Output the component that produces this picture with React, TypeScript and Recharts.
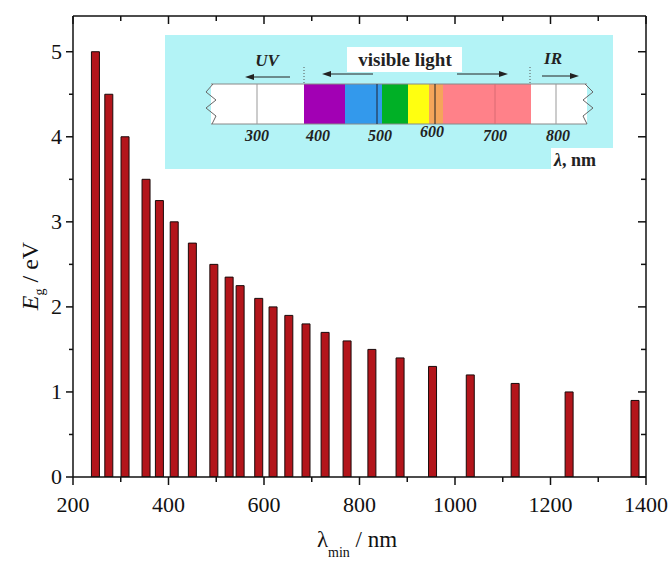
import { ComposedChart, Bar, XAxis, YAxis } from "recharts";

// band gap (eV) vs. the cut-off wavelength (nm) it absorbs from
const lambdaMin = [248, 276, 310, 354, 382, 413, 451, 496, 528, 551, 590, 620, 653, 689, 729, 775, 827, 886, 954, 1033, 1127, 1240, 1378];
const bandGap = [5, 4.5, 4, 3.5, 3.25, 3, 2.75, 2.5, 2.35, 2.25, 2.1, 2, 1.9, 1.8, 1.7, 1.6, 1.5, 1.4, 1.3, 1.2, 1.1, 1.0, 0.9];

const xTicks = [200, 300, 400, 500, 600, 700, 800, 900, 1000, 1100, 1200, 1300, 1400];
const yTicks = [0, 0.5, 1, 1.5, 2, 2.5, 3, 3.5, 4, 4.5, 5];

// inset spectrum strip
const spectrumLabels = ["300", "400", "500", "600", "700", "800"];

const data = lambdaMin.map((l, i) => ({ lambda: l, eg: bandGap[i] }));

const SERIF = '"Liberation Serif", "Times New Roman", serif';
const INK = "#111";

const BottomTick = (props: any) => {
  const { x, y, payload } = props;
  const major = payload.value % 200 === 0;
  return (
    <g>
      <line x1={x} x2={x} y1={y} y2={y + (major ? 8 : 5)} stroke={INK} strokeWidth={1.5} />
      {major && (
        <text x={x} y={y + 35} textAnchor="middle" fontSize={22} fontFamily={SERIF} fill={INK}>
          {payload.value}
        </text>
      )}
    </g>
  );
};

const TopTick = (props: any) => {
  const { x, y, payload } = props;
  const major = payload.value % 200 === 0;
  return <line x1={x} x2={x} y1={y} y2={y + (major ? 8 : 5)} stroke={INK} strokeWidth={1.5} />;
};

const LeftTick = (props: any) => {
  const { x, y, payload } = props;
  const major = Number.isInteger(payload.value);
  return (
    <g>
      <line x1={x} x2={x - (major ? 7 : 4)} y1={y} y2={y} stroke={INK} strokeWidth={1.5} />
      {major && (
        <text x={x - 11} y={y + 7} textAnchor="end" fontSize={22} fontFamily={SERIF} fill={INK}>
          {payload.value}
        </text>
      )}
    </g>
  );
};

const RightTick = (props: any) => {
  const { x, y, payload } = props;
  const major = Number.isInteger(payload.value);
  return <line x1={x} x2={x - (major ? 8 : 5)} y1={y} y2={y} stroke={INK} strokeWidth={1.5} />;
};

function Arrow({ x1, x2, y }: { x1: number; x2: number; y: number }) {
  const dir = x2 > x1 ? 1 : -1;
  return (
    <g>
      <line x1={x1} x2={x2 - dir * 6} y1={y} y2={y} stroke="#222" strokeWidth={1} />
      <polygon points={`${x2},${y} ${x2 - dir * 9},${y - 3} ${x2 - dir * 9},${y + 3}`} fill="#222" />
    </g>
  );
}

function Inset() {
  const labelX = [257, 318, 380, 432, 495, 558];
  const labelY = [141, 141, 141, 137, 141, 141];
  const it = { fontFamily: SERIF, fontStyle: "italic" as const, fontWeight: 700, fill: "#222" };
  return (
    <svg width={672} height={561} style={{ position: "absolute", left: 0, top: 0, pointerEvents: "none" }}>
      <rect x={165} y={35} width={448} height={134} fill="#b3f3f6" />
      {/* strip */}
      <rect x={211} y={84} width={376} height={40} fill="#fff" />
      <rect x={304} y={84} width={41} height={40} fill="#a200b4" />
      <rect x={345} y={84} width={37} height={40} fill="#3399ec" />
      <rect x={382} y={84} width={26} height={40} fill="#00b026" />
      <rect x={408} y={84} width={21} height={40} fill="#ffff10" />
      <rect x={429} y={84} width={14} height={40} fill="#f5a55a" />
      <rect x={443} y={84} width={88} height={40} fill="#ff8189" />
      <line x1={211} x2={587} y1={84} y2={84} stroke="#888" strokeWidth={1} />
      <line x1={211} x2={587} y1={124} y2={124} stroke="#888" strokeWidth={1} />
      <line x1={257} x2={257} y1={84} y2={124} stroke="#999" strokeWidth={1} />
      <line x1={556} x2={556} y1={84} y2={124} stroke="#999" strokeWidth={1} />
      <line x1={377} x2={377} y1={84} y2={124} stroke="#223" strokeWidth={1} />
      <line x1={435} x2={435} y1={84} y2={124} stroke="#222" strokeWidth={1} />
      <line x1={495} x2={495} y1={84} y2={124} stroke="#d96a72" strokeWidth={1} />
      <polyline points="213,84 206,92 216,100 206,108 216,116 212,124" fill="none" stroke="#666" strokeWidth={1} />
      <polyline points="585,84 593,92 583,100 593,108 583,116 587,124" fill="none" stroke="#666" strokeWidth={1} />
      <line x1={304} x2={304} y1={67} y2={84} stroke="#555" strokeDasharray="1 2" />
      <line x1={530} x2={530} y1={67} y2={84} stroke="#555" strokeDasharray="1 2" />
      {spectrumLabels.map((t, i) => (
        <text key={t} x={labelX[i]} y={labelY[i]} textAnchor="middle" fontSize={16} {...it}>
          {t}
        </text>
      ))}
      <text x={267} y={66} textAnchor="middle" fontSize={17} {...it}>UV</text>
      <Arrow x1={290} x2={245} y={77} />
      <rect x={347} y={47} width={115} height={25} fill="#fff" />
      <text x={405} y={66} textAnchor="middle" fontSize={19} fontFamily={SERIF} fontWeight={700} fill="#222">
        visible light
      </text>
      <Arrow x1={373} x2={322} y={74} />
      <Arrow x1={457} x2={508} y={74} />
      <text x={553} y={64} textAnchor="middle" fontSize={17} {...it}>IR</text>
      <Arrow x1={542} x2={579} y={76} />
      <rect x={551} y={148} width={62} height={21} fill="#fff" />
      <text x={554} y={166} fontSize={18} fontFamily={SERIF} fontWeight={700} fill="#222">
        <tspan fontStyle="italic">λ</tspan>, nm
      </text>
    </svg>
  );
}

export default function App() {
  return (
    <div style={{ position: "absolute", left: 0, top: 0, width: 672, height: 561, background: "#fff" }}>
      <ComposedChart width={672} height={561} data={data} margin={{ top: 0, right: 0, bottom: 0, left: 0 }}>
        <XAxis
          xAxisId="bottom"
          dataKey="lambda"
          type="number"
          domain={[200, 1400]}
          ticks={xTicks}
          interval={0}
          allowDataOverflow
          height={84}
          tickSize={0}
          tickMargin={0}
          tick={<BottomTick />}
          axisLine={{ stroke: INK, strokeWidth: 1.5 }}
          label={{
            content: () => (
              <text x={357} y={547} textAnchor="middle" fontSize={23} fontFamily={SERIF} fill={INK}>
                λ<tspan fontSize={14} dy={10}>min</tspan>
                <tspan dy={-10}> / nm</tspan>
              </text>
            ),
          }}
        />
        <XAxis
          xAxisId="top"
          orientation="top"
          dataKey="lambda"
          type="number"
          domain={[200, 1400]}
          ticks={xTicks}
          interval={0}
          allowDataOverflow
          height={16}
          tickSize={0}
          tickMargin={0}
          tick={<TopTick />}
          axisLine={{ stroke: INK, strokeWidth: 1.5 }}
        />
        <YAxis
          yAxisId="left"
          type="number"
          domain={[0, 5.42]}
          ticks={yTicks}
          interval={0}
          allowDataOverflow
          width={73}
          tickSize={0}
          tickMargin={0}
          tick={<LeftTick />}
          axisLine={{ stroke: INK, strokeWidth: 1.5 }}
          label={{
            content: () => {
              const cx = 38;
              const cy = 276;
              return (
                <text x={cx} y={cy} transform={`rotate(-90 ${cx} ${cy})`} textAnchor="middle" fontSize={24} fontFamily={SERIF} fill={INK}>
                  <tspan fontStyle="italic">E</tspan>
                  <tspan fontSize={14} dy={6}>g</tspan>
                  <tspan dy={-6}> / eV</tspan>
                </text>
              );
            },
          }}
        />
        <YAxis
          yAxisId="right"
          orientation="right"
          type="number"
          domain={[0, 5.42]}
          ticks={yTicks}
          interval={0}
          allowDataOverflow
          width={26}
          tickSize={0}
          tickMargin={0}
          tick={<RightTick />}
          axisLine={{ stroke: INK, strokeWidth: 1.5 }}
        />
        <Bar
          xAxisId="bottom"
          yAxisId="left"
          dataKey="eg"
          barSize={8}
          fill="#b3151b"
          stroke="#1a0a0a"
          strokeWidth={1}
          isAnimationActive={false}
        />
      </ComposedChart>
      <Inset />
    </div>
  );
}
